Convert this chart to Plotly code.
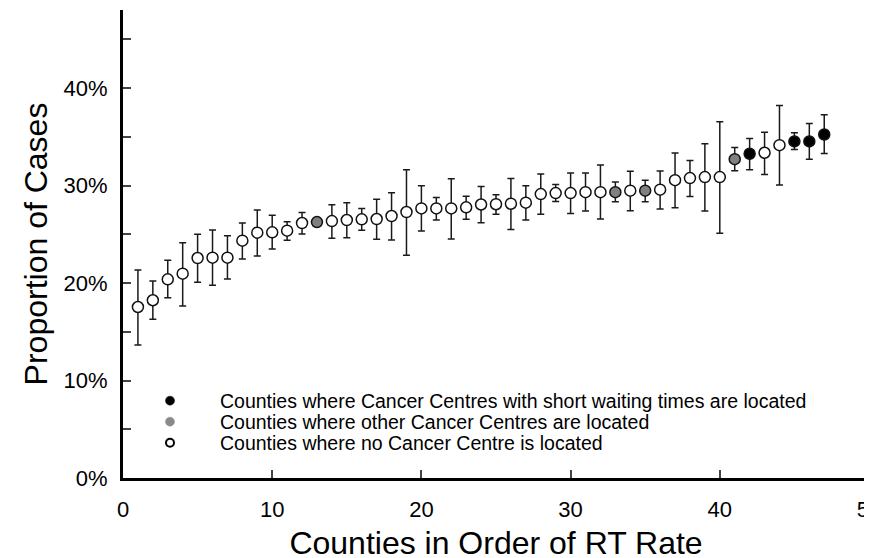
import plotly.graph_objects as go

# ---- data ----
county_rank = list(range(1, 48))
rt_rate = [17.54, 18.23, 20.38, 20.96, 22.56, 22.60, 22.60, 24.34, 25.16, 25.20,
           25.37, 26.15, 26.25, 26.35, 26.46, 26.53, 26.56, 26.87, 27.28, 27.65,
           27.65, 27.65, 27.76, 28.05, 28.08, 28.13, 28.24, 29.12, 29.22, 29.22,
           29.32, 29.32, 29.32, 29.47, 29.47, 29.57, 30.55, 30.76, 30.86, 30.86,
           32.70, 33.26, 33.36, 34.14, 34.52, 34.52, 35.23]
ci_upper = [21.33, 20.20, 22.33, 24.14, 24.99, 25.43, 24.85, 26.15, 27.48, 26.94,
            26.29, 27.24, 26.65, 28.03, 28.24, 27.65, 28.58, 29.26, 31.62, 29.98,
            28.78, 30.70, 28.91, 29.90, 29.04, 30.73, 29.98, 31.17, 30.11, 31.27,
            31.27, 32.09, 30.35, 31.45, 30.55, 31.48, 33.34, 32.57, 34.28, 36.54,
            33.90, 34.83, 35.47, 38.21, 35.41, 36.36, 37.25]
ci_lower = [13.65, 16.28, 18.50, 17.65, 20.07, 19.76, 20.41, 22.46, 22.77, 23.48,
            24.38, 25.02, 25.85, 24.58, 24.65, 25.40, 24.48, 24.41, 22.84, 25.33,
            26.46, 24.51, 26.53, 26.17, 27.04, 25.50, 26.46, 27.04, 28.37, 27.14,
            27.38, 26.56, 28.34, 27.42, 28.34, 27.58, 27.73, 28.88, 27.38, 25.09,
            31.52, 31.62, 31.14, 30.04, 33.70, 32.70, 33.29]
# 'short' = Cancer Centre with short waiting times, 'other' = other Cancer Centre, 'none' = no centre
centre_type = ['none'] * 47
for r in [42, 45, 46, 47]:
    centre_type[r - 1] = 'short'
for r in [13, 33, 35, 41]:
    centre_type[r - 1] = 'other'

group_labels = {
    'short': 'Counties where Cancer Centres with short waiting times are located',
    'other': 'Counties where other Cancer Centres are located',
    'none': 'Counties where no Cancer Centre is located',
}
x_ticks = [0, 10, 20, 30, 40, 50]
y_tickvals = [0, 5, 10, 15, 20, 25, 30, 35, 40, 45]
y_ticktext = ['0%', '', '10%', '', '20%', '', '30%', '', '40%', '']

FONT = 'Liberation Sans, Arial, sans-serif'
fill = {'short': '#000000', 'other': '#808080', 'none': '#ffffff'}
legend_fill = {'short': '#000000', 'other': '#8a8a8a', 'none': '#ffffff'}

fig = go.Figure()

for g in ['none', 'other', 'short']:
    idx = [i for i, t in enumerate(centre_type) if t == g]
    xs = [county_rank[i] for i in idx]
    ys = [rt_rate[i] for i in idx]
    up = [ci_upper[i] - rt_rate[i] for i in idx]
    lo = [rt_rate[i] - ci_lower[i] for i in idx]
    fig.add_trace(go.Scatter(
        x=xs, y=ys, mode='markers', showlegend=False,
        marker=dict(size=11, color=fill[g], line=dict(color='#111111', width=1.5)),
        error_y=dict(type='data', symmetric=False, array=up, arrayminus=lo,
                     color='#1a1a1a', thickness=1.5, width=3.5),
        hoverinfo='skip'))

# legend entries, one legend per row so rows can sit close together
legend_ids = {'short': 'legend', 'other': 'legend2', 'none': 'legend3'}
for g in ['short', 'other', 'none']:
    fig.add_trace(go.Scatter(
        x=[None], y=[None], mode='markers', name=group_labels[g],
        legend=legend_ids[g],
        marker=dict(size=9 if g != 'none' else 8, color=legend_fill[g],
                    line=dict(color='#000000' if g != 'other' else '#8a8a8a',
                              width=2 if g == 'none' else 0.5))))

# the page body has an 8px margin, so the figure is shifted by that amount on screen
BODY = 8
W, H = 872, 558
SCR_L, SCR_R, SCR_T, SCR_B = 123, 869, 10, 478     # plot area on screen
PLOT_W, PLOT_H = SCR_R - SCR_L, SCR_B - SCR_T

def legend_box(scr_left, scr_center_y):
    return dict(x=(scr_left - SCR_L) / PLOT_W,
                y=(SCR_B - scr_center_y) / PLOT_H,
                xanchor='left', yanchor='middle', bgcolor='rgba(0,0,0,0)',
                font=dict(size=19.5, family=FONT), itemwidth=90, borderwidth=0)

fig.update_layout(
    width=W, height=H,
    margin=dict(l=SCR_L - BODY, r=W - (SCR_R - BODY), t=SCR_T - BODY, b=H - (SCR_B - BODY),
                autoexpand=False),
    paper_bgcolor='white', plot_bgcolor='white',
    font=dict(family=FONT, color='#000000'),
    showlegend=True,
    legend=legend_box(120, 401),
    legend2=legend_box(120, 422),
    legend3=legend_box(120, 443),
)
fig.update_xaxes(
    range=[0, 50], tickvals=x_ticks, ticks='inside', ticklen=8, tickwidth=2,
    showline=True, linewidth=3, linecolor='#000000', showgrid=False, zeroline=False,
    automargin=False, ticklabeloverflow='allow',
    tickfont=dict(size=22, family=FONT), ticklabelstandoff=10,
    title=dict(text='Counties in Order of RT Rate', font=dict(size=32, family=FONT), standoff=11),
)
fig.update_yaxes(
    range=[0, 48], tickvals=y_tickvals, ticktext=y_ticktext, ticks='inside', ticklen=8,
    tickwidth=2, showline=True, linewidth=3, linecolor='#000000', showgrid=False,
    zeroline=False, automargin=False, tickfont=dict(size=22, family=FONT), ticklabelstandoff=8,
    title=dict(text='Proportion of Cases', font=dict(size=32, family=FONT), standoff=7),
)

fig.write_html('out.html')
